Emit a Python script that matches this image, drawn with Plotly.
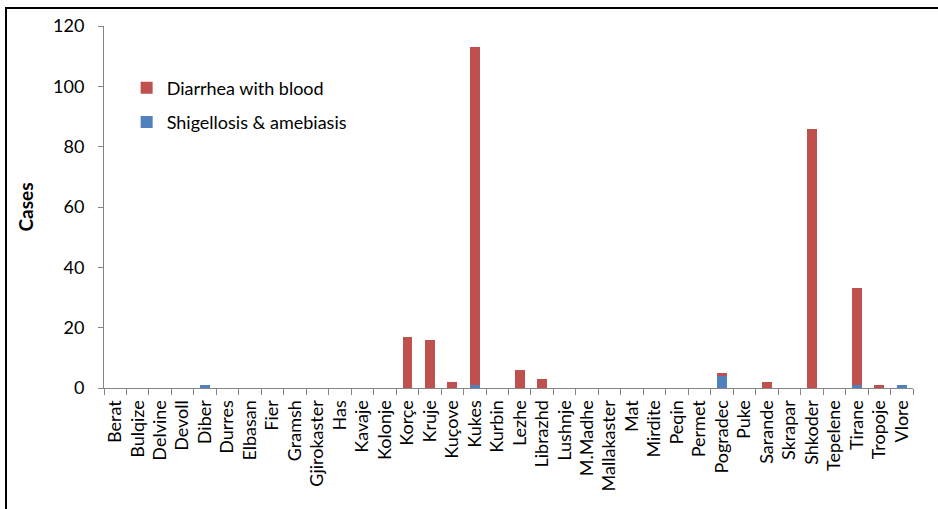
import plotly.graph_objects as go

districts = ["Berat", "Bulqize", "Delvine", "Devoll", "Diber", "Durres", "Elbasan",
             "Fier", "Gramsh", "Gjirokaster", "Has", "Kavaje", "Kolonje", "Korçe",
             "Kruje", "Kuçove", "Kukes", "Kurbin", "Lezhe", "Librazhd", "Lushnje",
             "M.Madhe", "Mallakaster", "Mat", "Mirdite", "Peqin", "Permet", "Pogradec",
             "Puke", "Sarande", "Skrapar", "Shkoder", "Tepelene", "Tirane", "Tropoje",
             "Vlore"]

shigellosis = [0, 0, 0, 0, 1, 0, 0, 0, 0, 0, 0, 0, 0, 0, 0, 0, 1, 0, 0, 0, 0, 0,
               0, 0, 0, 0, 0, 4, 0, 0, 0, 0, 0, 1, 0, 1]
diarrhea = [0, 0, 0, 0, 0, 0, 0, 0, 0, 0, 0, 0, 0, 17, 16, 2, 112, 0, 6, 3, 0, 0,
            0, 0, 0, 0, 0, 1, 0, 2, 0, 86, 0, 32, 1, 0]

y_ticks = [0, 20, 40, 60, 80, 100, 120]

FONT = "Lato, 'Open Sans', sans-serif"
AXIS_COLOR = "#868686"

fig = go.Figure()
fig.add_trace(go.Bar(x=districts, y=shigellosis, name="Shigellosis & amebiasis",
                     marker=dict(color="#4F81BD", line=dict(width=0)),
                     legendgroup="s", legendrank=2))
fig.add_trace(go.Bar(x=districts, y=diarrhea, name="Diarrhea with blood",
                     marker=dict(color="#C0504D", line=dict(width=0)),
                     legendgroup="d", legendrank=1))

fig.update_layout(
    width=938, height=509,
    barmode="stack", bargap=0.57,
    paper_bgcolor="white", plot_bgcolor="white",
    margin=dict(l=104, r=25, t=26, b=121),
    font=dict(family=FONT, color="#000000"),
    legend=dict(x=0.028, y=0.88, xanchor="left", yanchor="top",
                traceorder="grouped", tracegroupgap=8,
                font=dict(size=18), bgcolor="rgba(0,0,0,0)",
                itemwidth=30),
    showlegend=True,
)

fig.update_xaxes(
    type="category", tickmode="array", tickvals=districts, ticktext=districts,
    tickangle=-90, tickson="boundaries",
    ticks="outside", ticklen=6, tickcolor=AXIS_COLOR,
    showline=True, linecolor=AXIS_COLOR, linewidth=1,
    showgrid=False, tickfont=dict(size=18), ticklabelstandoff=4,
)
fig.update_yaxes(
    range=[0, 120], tickvals=y_ticks, ticks="outside", ticklen=5,
    tickcolor=AXIS_COLOR, showline=True, linecolor=AXIS_COLOR, linewidth=1,
    showgrid=False, zeroline=False, tickfont=dict(size=18),
    ticklabelstandoff=10,
    title=dict(text="<b>Cases</b>", font=dict(size=19), standoff=14),
)

# Frame around the chart (top and left edges visible in the canvas)
fig.add_shape(type="rect", xref="paper", yref="paper",
              x0=-98 / 809, x1=1.2, y0=-1.0, y1=1 + 18 / 362,
              line=dict(color="black", width=2), fillcolor="rgba(0,0,0,0)",
              layer="below")

fig.write_html("out.html")
